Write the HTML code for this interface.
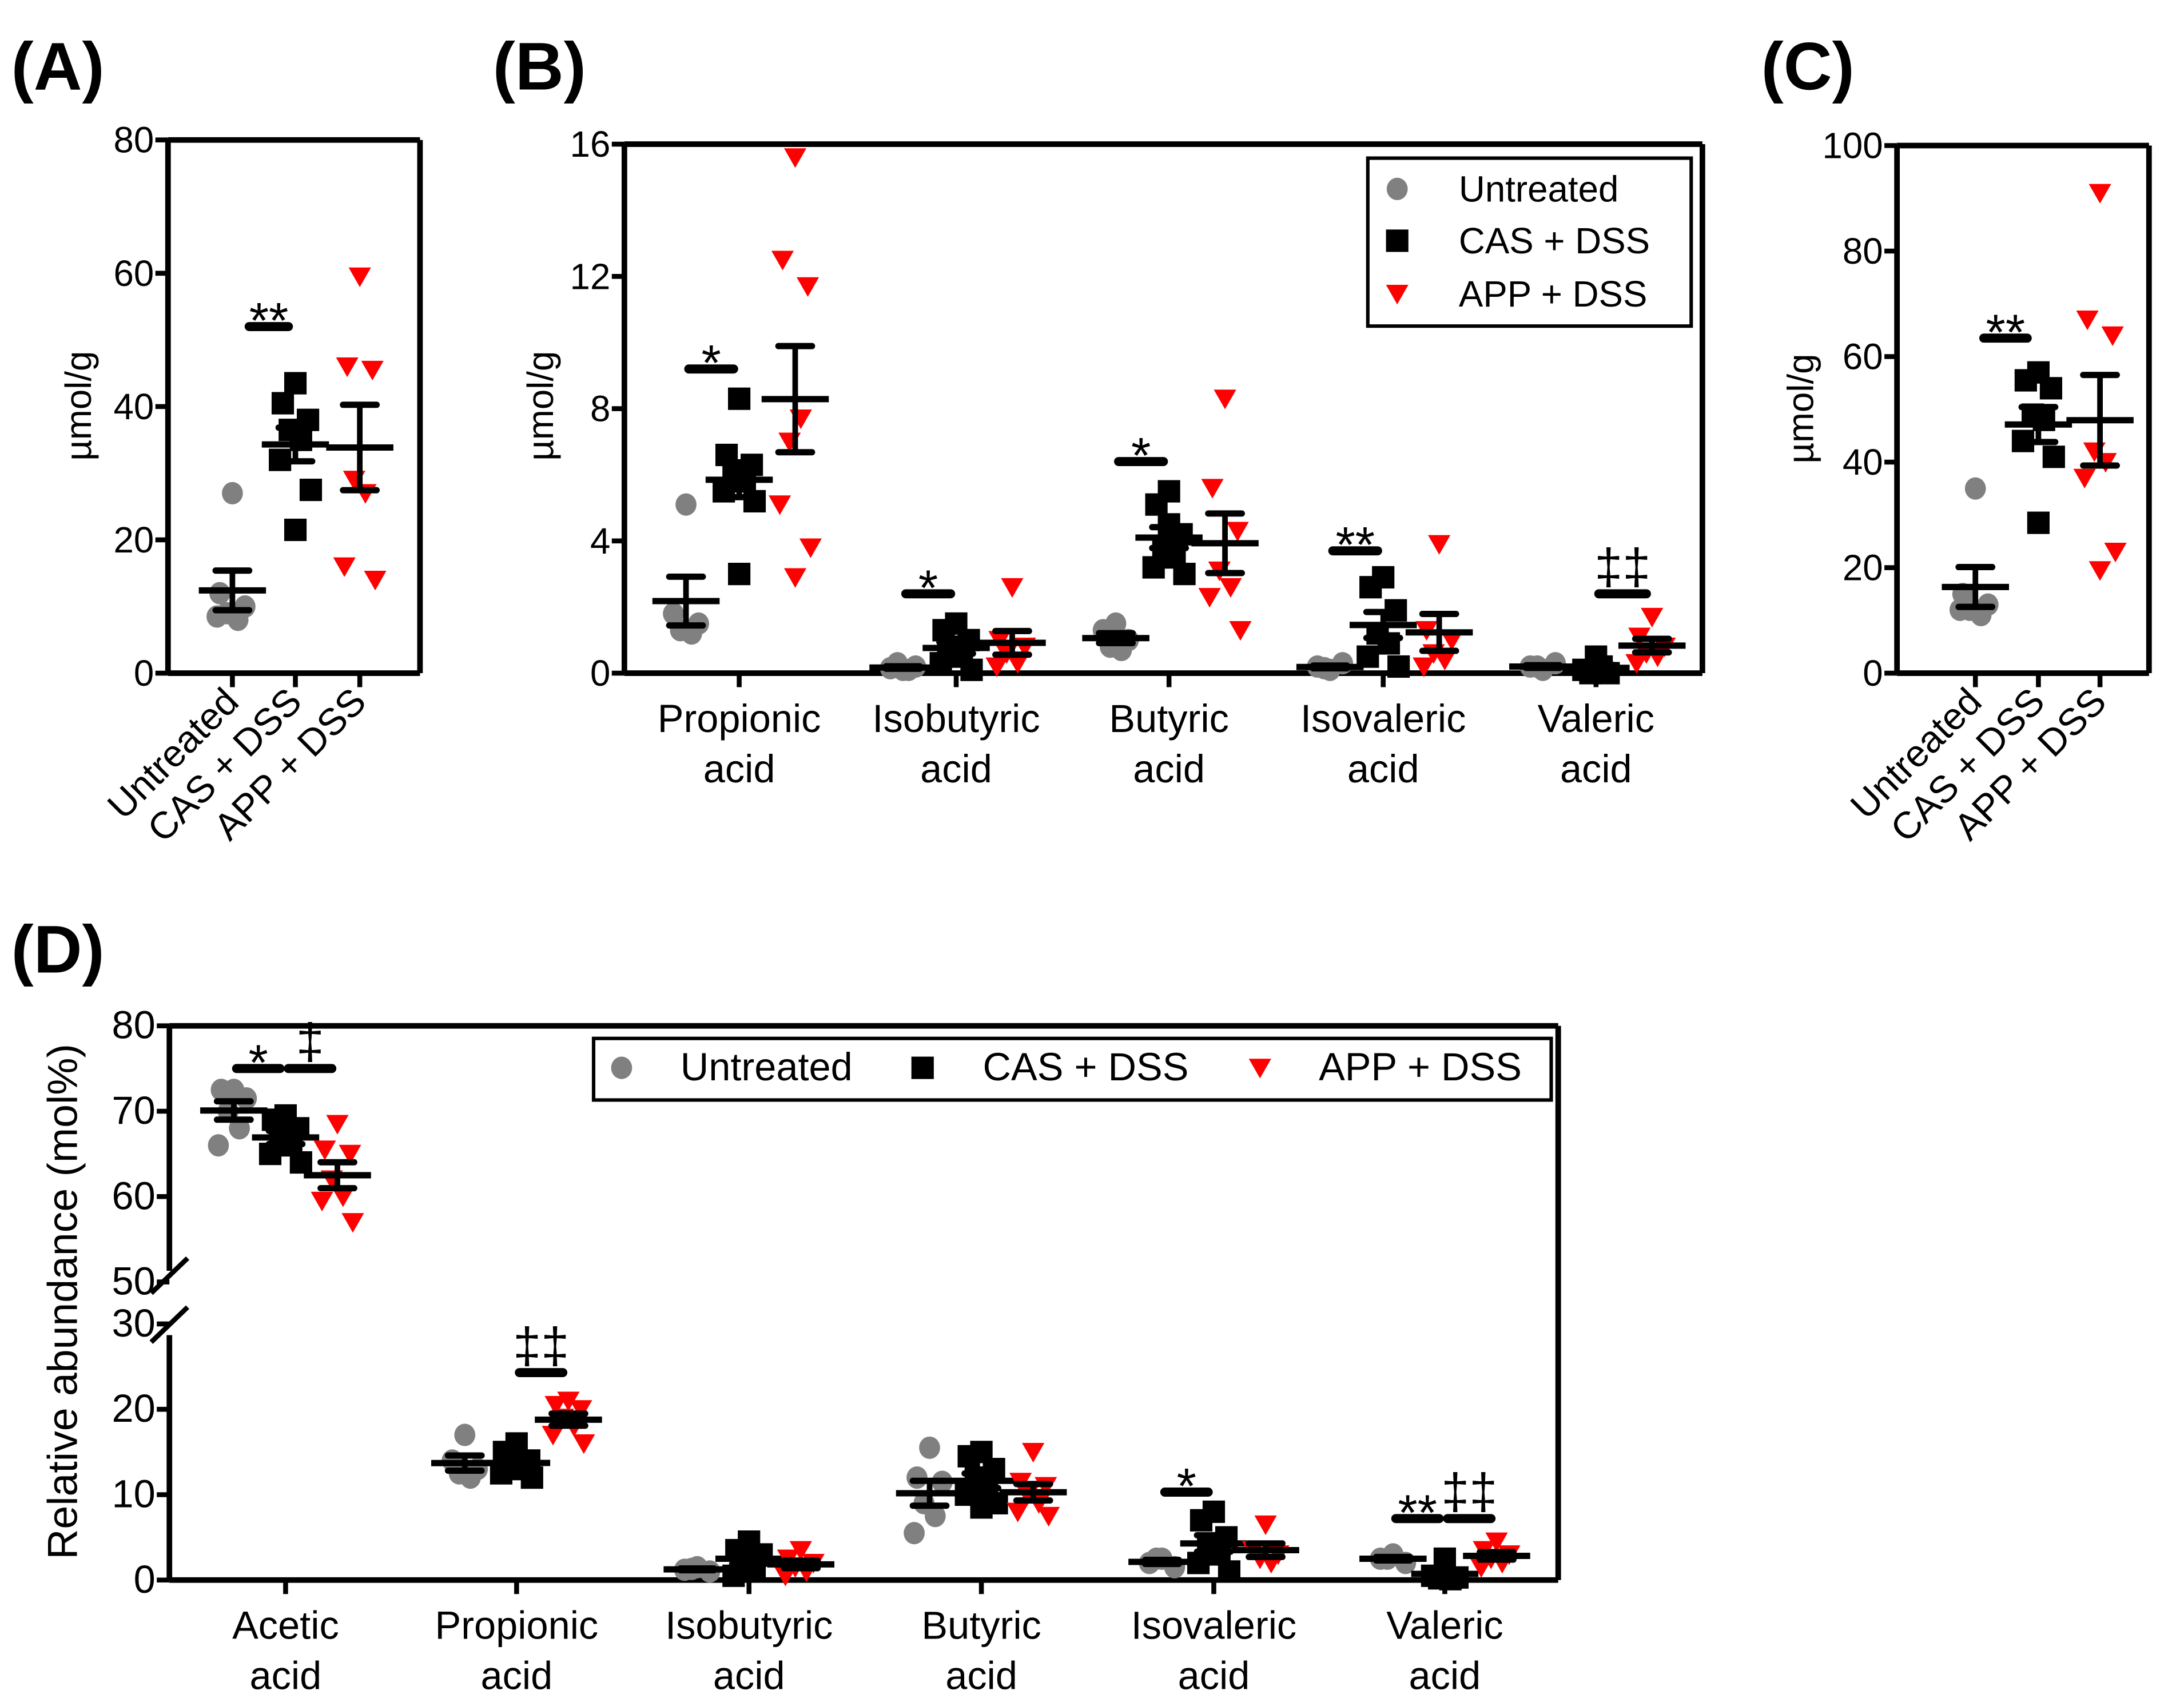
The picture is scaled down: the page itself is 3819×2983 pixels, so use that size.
<!DOCTYPE html>
<html><head><meta charset="utf-8"><style>
html,body{margin:0;padding:0;background:#fff}
svg{display:block}
text{font-family:"Liberation Sans",Arial,sans-serif;fill:#000}
</style></head><body>
<svg id="fig" width="3819" height="2983" viewBox="0 0 1560 1219" preserveAspectRatio="none" xmlns="http://www.w3.org/2000/svg">
<text x="8" y="64" font-size="48" font-weight="bold">(A)</text>
<text x="352" y="64" font-size="48" font-weight="bold">(B)</text>
<text x="1258" y="64" font-size="48" font-weight="bold">(C)</text>
<text x="8" y="695" font-size="48" font-weight="bold">(D)</text>
</svg>
<script>
// ---------- DATA ----------
const groupNames = ["Untreated","CAS + DSS","APP + DSS"];
// Panel A (acetic, µmol/g)
const aU = [27,12,10,9,8,8.5];
const aC = [43.5,40.5,38,36.5,35,32,27.5,21.5];
const aA = [59.5,46,45.5,29,27,16,14];
const aTicks = [0,20,40,60,80];
const aSig = [{from:0,to:1,y:52,label:"**"}];
// Panel B (µmol/g)
const bCats = ["Propionic|acid","Isobutyric|acid","Butyric|acid","Isovaleric|acid","Valeric|acid"];
const bU = [[5.1,1.8,1.5,1.3,1.2],[0.1,0.15,0.2,0.3,0.1],[1.5,1.3,1.0,0.8,0.7],[0.1,0.2,0.3,0.15],[0.1,0.2,0.3,0.2]];
const bC = [[8.3,6.6,6.3,6.1,5.8,5.5,5.2,3.0],[1.5,1.3,1.0,0.8,0.6,0.3,0.1,0.5],[5.5,5.1,4.2,3.8,3.5,3.2,3.0,4.5],[2.9,2.6,1.9,1.2,0.9,0.5,0.2],[0.5,0.1,0,0,0.2]];
const bA = [[15.6,12.5,11.7,7.0,7.7,5.1,3.8,2.9],[2.6,1.0,0.8,0.6,0.3,0.2],[8.3,5.6,4.3,3.1,2.6,2.3,1.3],[3.9,1.3,1.0,0.6,0.4,0.2],[1.7,1.1,0.8,0.6,0.5,0.3]];
const bTicks = [0,4,8,12,16];
const bSig = [{cat:0,from:0,to:1,y:9.2,label:"*"},{cat:1,from:0,to:1,y:2.4,label:"*"},{cat:2,from:0,to:1,y:6.4,label:"*"},{cat:3,from:0,to:1,y:3.7,label:"**"},{cat:4,from:1,to:2,y:2.4,label:"‡‡"}];
// Panel C (total, µmol/g)
const cU = [35,15,13,12,11,12];
const cC = [57,55.5,54,49,48,44,41,28.5];
const cA = [91,67,64,42,40,37,23,19.5];
const cTicks = [0,20,40,60,80,100];
const cSig = [{from:0,to:1,y:63.5,label:"**"}];
// Panel D (mol%)
const dCats = ["Acetic|acid","Propionic|acid","Isobutyric|acid","Butyric|acid","Isovaleric|acid","Valeric|acid"];
const dU = [[72.5,72.5,71.5,70,68,66],[17,14,13,12.5,12],[1.5,1.2,1,1.3],[15.5,12,11.5,9,7.5,5.5],[2.5,2,1.5,2.5],[3,2.5,2,2.5]];
const dC = [[69.5,69,68,67,66,65,64],[16,15,14,13.5,13,12.5,12],[4.5,3.5,3,2,1.5,0.5],[15,14.5,13,12,11,10,9,8.5],[8,7,5,4,3,2,1],[2.5,0.5,0.3,0.2,0.1]];
const dA = [[68.5,65.5,65,62,60,59.5,57],[21,20.5,20,19,18,17,16],[3.5,2.5,2,1.5,1,0.5],[15,11.5,11,10,9,8,7.5],[6.5,3.5,3,2.5,2],[4.5,3.5,3,2.5,2,1.5]];
const dTicksUpper = [50,60,70,80];
const dTicksLower = [0,10,20,30];
const dSig = [{cat:0,from:0,to:1,y:75,label:"*"},{cat:0,from:1,to:2,y:75,label:"‡"},{cat:1,from:1,to:2,y:24.3,label:"‡‡"},{cat:4,from:0,to:1,y:10.3,label:"*"},{cat:5,from:0,to:1,y:7.2,label:"**"},{cat:5,from:1,to:2,y:7.2,label:"‡‡"}];

// ---------- HELPERS ----------
const svg = document.getElementById('fig');
const NS = "http://www.w3.org/2000/svg";
function mk(tag, attrs, parent){const e=document.createElementNS(NS,tag);for(const k in attrs)e.setAttribute(k,attrs[k]);(parent||svg).appendChild(e);return e;}
function mean(a){return a.reduce((s,v)=>s+v,0)/a.length;}
function sem(a){const m=mean(a);const sd=Math.sqrt(a.reduce((s,v)=>s+(v-m)*(v-m),0)/(a.length-1));return sd/Math.sqrt(a.length);}
const jit=[0,-9,9,-4,4,-11,11,0,-6,6];
function marker(g,type,cx,cy,parent){
  let e;
  if(type===0){e=mk('ellipse',{cx:cx,cy:cy,rx:7.5,ry:8,fill:'#808080'},parent);}
  else if(type===1){e=mk('rect',{x:cx-8,y:cy-8,width:16,height:16,fill:'#000'},parent);}
  else {e=mk('polygon',{points:`${cx-8},${cy-6.5} ${cx+8},${cy-6.5} ${cx},${cy+7.5}`,fill:'#f00'},parent);}
  
  
  return e;
}
function drawGroup(vals,type,cx,y,parent){
  const g=mk('g',{},parent);
  
  
  vals.forEach((v,i)=>marker(g,type,cx+jit[i%jit.length],y(v),g));
  const m=mean(vals), s=sem(vals);
  mk('line',{x1:cx-24,x2:cx+24,y1:y(m),y2:y(m),stroke:'#000','stroke-width':4.5},g);
  mk('line',{x1:cx,x2:cx,y1:y(m+s),y2:y(Math.max(m-s,0)),stroke:'#000','stroke-width':4},g);
  mk('line',{x1:cx-12,x2:cx+12,y1:y(m+s),y2:y(m+s),stroke:'#000','stroke-width':4.5,'stroke-linecap':'round'},g);
  mk('line',{x1:cx-12,x2:cx+12,y1:y(Math.max(m-s,0)),y2:y(Math.max(m-s,0)),stroke:'#000','stroke-width':4.5,'stroke-linecap':'round'},g);
}
function sigBar(x1,x2,yy,label,fs){
  const l=mk('line',{x1:x1,x2:x2,y1:yy,y2:yy,stroke:'#000','stroke-width':6.5,'stroke-linecap':'round'});
  
  
  const t=mk('text',{x:(x1+x2)/2,y:yy-(label.includes('‡')?7:-8),'font-size':fs||36,'text-anchor':'middle'});
  t.textContent=label;
  
  
}
function box(x0,x1,yTop,yBot,name){
  const g=mk('g',{});
  
  
  mk('line',{x1:x0,x2:x1,y1:yTop,y2:yTop,stroke:'#000','stroke-width':4},g);
  mk('line',{x1:x1,x2:x1,y1:yTop,y2:yBot,stroke:'#000','stroke-width':4},g);
  mk('line',{x1:x0,x2:x1,y1:yBot,y2:yBot,stroke:'#000','stroke-width':4},g);
  return g;
}
function yTicks(ticks,y,x0,fs){
  ticks.forEach(t=>{
    const l=mk('line',{x1:x0-9,x2:x0,y1:y(t),y2:y(t),stroke:'#000','stroke-width':3.5});
    
    
    const tx=mk('text',{x:x0-10,y:y(t)+9,'font-size':fs||26,'text-anchor':'end'});
    tx.textContent=t;
    
    
  });
}
function yTitle(x,yc,label,fs){
  const t=mk('text',{x:x,y:yc,'font-size':fs||26,'text-anchor':'middle',transform:`rotate(-90 ${x} ${yc})`});
  t.textContent=label;
  
  
}
function catLabels(cats,xs,yBase,fs){
  cats.forEach((c,i)=>{
    const l=mk('line',{x1:xs[i],x2:xs[i],y1:yBase,y2:yBase+10,stroke:'#000','stroke-width':3.5});
    
    
    const parts=c.split('|');
    parts.forEach((p,j)=>{
      const t=mk('text',{x:xs[i],y:yBase+42+j*36,'font-size':fs||28,'text-anchor':'middle'});
      t.textContent=p;
      
      
    });
  });
}
function rotLabels(xs,yBase){
  groupNames.forEach((n,i)=>{
    const l=mk('line',{x1:xs[i],x2:xs[i],y1:yBase,y2:yBase+10,stroke:'#000','stroke-width':3.5});
    
    
    const x=xs[i]+6,y=yBase+22;
    const t=mk('text',{x:x,y:y,'font-size':27,'text-anchor':'end',transform:`rotate(-45 ${x} ${y})`});
    t.textContent=n;
    
    
  });
}
function legend(x0,y0,w,h,items){
  const g=mk('g',{});
  
  
  mk('rect',{x:x0,y:y0,width:w,height:h,fill:'#fff',stroke:'#000','stroke-width':2.5},g);
  items.forEach(it=>{
    marker(g,it.type,it.mx,it.y,g);
    const t=mk('text',{x:it.tx,y:it.y+9,'font-size':it.fs||26},g);
    t.textContent=groupNames[it.type];
    
    
  });
}

// ---------- PANEL A ----------
(function(){
  const x0=120,x1=300,yT=100,yB=481;
  const y=v=>yB-(v/80)*(yB-yT);
  box(x0,x1,yT,yB,'panel-a-axes');
  mk('line',{x1:x0,x2:x0,y1:yT,y2:yB,stroke:'#000','stroke-width':4});
  yTicks(aTicks,y,x0);
  yTitle(65,290,'µmol/g');
  const xs=[166,211,257];
  [aU,aC,aA].forEach((d,i)=>drawGroup(d,i,xs[i],y));
  aSig.forEach(s=>sigBar(xs[s.from]+12,xs[s.to]-5,y(s.y),s.label));
  rotLabels(xs,yB);
})();

// ---------- PANEL B ----------
(function(){
  const x0=446,x1=1216,yT=103,yB=481;
  const y=v=>yB-(v/16)*(yB-yT);
  box(x0,x1,yT,yB,'panel-b-axes');
  mk('line',{x1:x0,x2:x0,y1:yT,y2:yB,stroke:'#000','stroke-width':4});
  yTicks(bTicks,y,x0);
  yTitle(395,290,'µmol/g');
  const xs=[528,683,835,988,1140];
  bCats.forEach((c,k)=>{
    drawGroup(bU[k],0,xs[k]-38,y);
    drawGroup(bC[k],1,xs[k],y);
    drawGroup(bA[k],2,xs[k]+40,y);
  });
  const off=[-38,0,40];
  bSig.forEach(s=>sigBar(xs[s.cat]+off[s.from]+2,xs[s.cat]+off[s.to]-4,y(s.y),s.label));
  catLabels(bCats,xs,yB);
  legend(977,113,231,120,[{type:0,mx:998,tx:1042,y:135},{type:1,mx:998,tx:1042,y:172},{type:2,mx:998,tx:1042,y:210}]);
})();

// ---------- PANEL C ----------
(function(){
  const x0=1355,x1=1535,yT=104,yB=481;
  const y=v=>yB-(v/100)*(yB-yT);
  box(x0,x1,yT,yB,'panel-c-axes');
  mk('line',{x1:x0,x2:x0,y1:yT,y2:yB,stroke:'#000','stroke-width':4});
  yTicks(cTicks,y,x0);
  yTitle(1295,292,'µmol/g');
  const xs=[1411,1456,1500];
  [cU,cC,cA].forEach((d,i)=>drawGroup(d,i,xs[i],y));
  cSig.forEach(s=>sigBar(xs[s.from]+6,xs[s.to]-8,y(s.y),s.label));
  rotLabels(xs,yB);
})();

// ---------- PANEL D ----------
(function(){
  const x0=121,x1=1113,yT=733,y50=916,y30=946,yB=1129;
  const y=v=> v>=40 ? y50-(v-50)*(y50-yT)/30 : yB-v*(yB-y30)/30;
  box(x0,x1,yT,yB,'panel-d-axes');
  mk('line',{x1:x0,x2:x0,y1:yT,y2:y50-8,stroke:'#000','stroke-width':4});
  mk('line',{x1:x0,x2:x0,y1:y30+8,y2:yB,stroke:'#000','stroke-width':4});
  mk('line',{x1:x0-13,x2:x0+13,y1:y50+8,y2:y50-17,stroke:'#000','stroke-width':3.5});
  mk('line',{x1:x0-13,x2:x0+13,y1:y30+13,y2:y30-12,stroke:'#000','stroke-width':3.5});
  yTicks(dTicksUpper,y,x0,28);
  yTicks(dTicksLower,y,x0,28);
  yTitle(55,930,'Relative abundance (mol%)',30);
  const xs=[204,369,535,701,867,1032];
  dCats.forEach((c,k)=>{
    drawGroup(dU[k],0,xs[k]-37,y);
    drawGroup(dC[k],1,xs[k],y);
    drawGroup(dA[k],2,xs[k]+37,y);
  });
  const off=[-37,0,37];
  dSig.forEach(s=>sigBar(xs[s.cat]+off[s.from]+2,xs[s.cat]+off[s.to]-4,y(s.y),s.label));
  catLabels(dCats,xs,yB,28);
  legend(424,742,684,44,[{type:0,mx:444,tx:486,y:763,fs:28},{type:1,mx:659,tx:702,y:763,fs:28},{type:2,mx:900,tx:942,y:763,fs:28}]);
})();
</script>
</body></html>
